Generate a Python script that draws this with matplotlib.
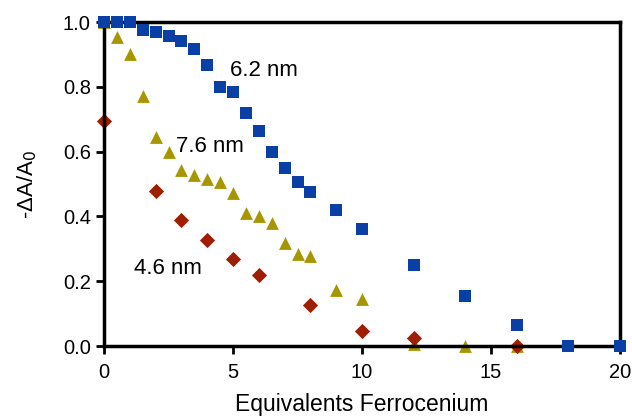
import numpy as np
import matplotlib.pyplot as plt

# 6.2 nm (squares)
x_62 = [0, 0.5, 1, 1.5, 2, 2.5, 3, 3.5, 4, 4.5, 5, 5.5, 6, 6.5, 7, 7.5, 8, 9, 10, 12, 14, 16, 18, 20]
y_62 = [1.0, 1.0, 1.0, 0.977, 0.968, 0.957, 0.942, 0.916, 0.867, 0.80, 0.785, 0.72, 0.665, 0.60,
        0.55, 0.507, 0.476, 0.42, 0.36, 0.249, 0.156, 0.065, 0.0, 0.0]

# 7.6 nm (triangles)
x_76 = [0, 0.5, 1, 1.5, 2, 2.5, 3, 3.5, 4, 4.5, 5, 5.5, 6, 6.5, 7, 7.5, 8, 9, 10, 12, 14, 16]
y_76 = [1.0, 0.955, 0.90, 0.773, 0.644, 0.599, 0.543, 0.528, 0.515, 0.507, 0.471, 0.41, 0.402,
        0.379, 0.319, 0.283, 0.278, 0.173, 0.145, 0.008, 0.0, 0.0]

# 4.6 nm (diamonds)
x_46 = [0, 2, 3, 4, 5, 6, 8, 10, 12, 16]
y_46 = [0.695, 0.48, 0.39, 0.327, 0.27, 0.219, 0.128, 0.046, 0.024, 0.0]

x_ticks = [0, 5, 10, 15, 20]
y_ticks = [0.0, 0.2, 0.4, 0.6, 0.8, 1.0]

plt.rcParams['font.family'] = ['Liberation Sans', 'DejaVu Sans']

fig = plt.figure(figsize=(6.32, 4.16), dpi=100)
ax = fig.add_axes([0.1646, 0.168, 0.8165, 0.779])

ax.scatter(x_62, y_62, marker='s', s=75, color='#0a3fa6', clip_on=False, zorder=3, linewidths=0)
ax.scatter(x_76, y_76, marker='^', s=85, color='#a89600', clip_on=False, zorder=2, linewidths=0)
ax.scatter(x_46, y_46, marker='D', s=60, color='#a01e00', clip_on=False, zorder=2, linewidths=0)

ax.text(4.9, 0.852, '6.2 nm', fontsize=16, va='center')
ax.text(2.8, 0.617, '7.6 nm', fontsize=16, va='center')
ax.text(1.16, 0.238, '4.6 nm', fontsize=16, va='center')

ax.set_xlim(0, 20)
ax.set_ylim(0, 1.0)
ax.set_xticks(x_ticks)
ax.set_yticks(y_ticks)
ax.set_yticklabels([f'{v:.1f}' for v in y_ticks])
ax.tick_params(direction='out', length=6, width=2, labelsize=14.5)
ax.tick_params(axis='x', pad=6)
for s in ax.spines.values():
    s.set_linewidth(2.5)

ax.set_xlabel('Equivalents Ferrocenium', fontsize=16.5, labelpad=8)
ax.set_ylabel('-ΔA/A$_0$', fontsize=16, labelpad=17)

fig.savefig('out.png', dpi=100)
